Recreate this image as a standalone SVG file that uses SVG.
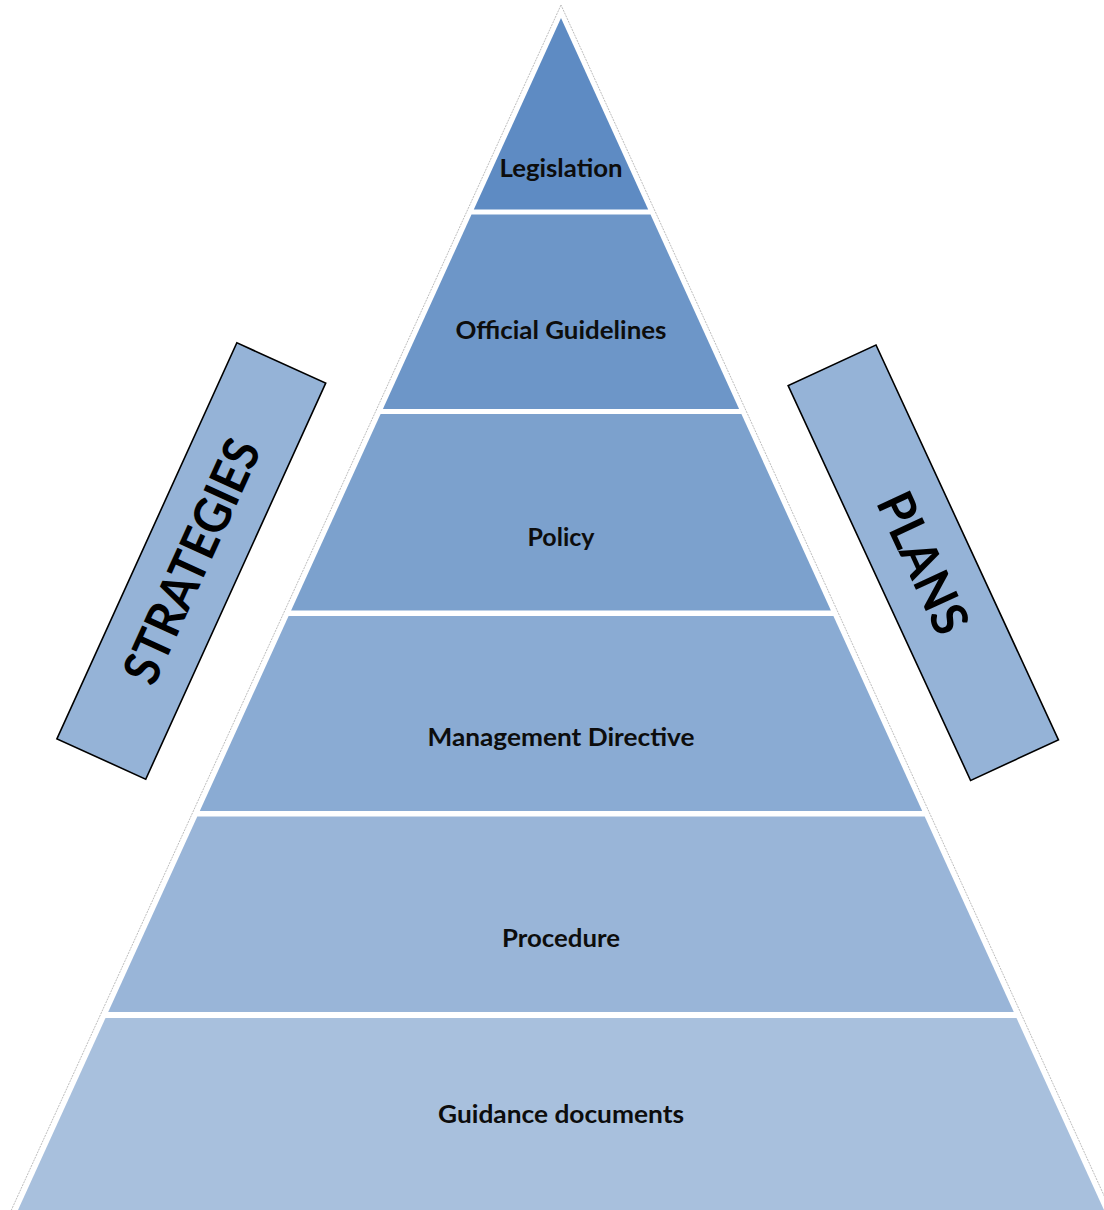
<svg xmlns="http://www.w3.org/2000/svg" width="1104" height="1210" viewBox="0 0 1104 1210">
<style>
.lbl{font-family:Lato,"Open Sans","Liberation Sans",sans-serif;font-weight:700;font-size:25px;fill:#0d0d0d;text-anchor:middle}
.side{font-family:Lato,"Open Sans","Liberation Sans",sans-serif;font-weight:700;font-size:50px;fill:#000;text-anchor:middle}
.box{fill:#95b3d7;stroke:#000;stroke-width:1.6}
.outline{fill:#fff;stroke:#bdbdbd;stroke-width:1;stroke-dasharray:2 1}
</style>
<rect width="1104" height="1210" fill="#fff"/>
<polygon class="outline" points="561,5 10,1213 1112,1213"/>
<g id="legislation">
<polygon points="561,18 648.2,209.5 473.8,209.5" fill="#5e8bc3"/>
<text class="lbl" x="561" y="177" textLength="123" lengthAdjust="spacingAndGlyphs">Legislation</text>
</g>
<g id="official-guidelines">
<polygon points="471.5,214.5 650.5,214.5 739.1,409 382.9,409" fill="#6d96c8"/>
<text class="lbl" x="561" y="339" textLength="211" lengthAdjust="spacingAndGlyphs">Official Guidelines</text>
</g>
<g id="policy">
<polygon points="380.6,414 741.4,414 830.9,610.5 291.1,610.5" fill="#7ca1cd"/>
<text class="lbl" x="561" y="546" textLength="67" lengthAdjust="spacingAndGlyphs">Policy</text>
</g>
<g id="management-directive">
<polygon points="288.6,616 833.4,616 922.2,811 199.8,811" fill="#8aabd3"/>
<text class="lbl" x="561" y="746" textLength="267" lengthAdjust="spacingAndGlyphs">Management Directive</text>
</g>
<g id="procedure">
<polygon points="197.3,816.5 924.7,816.5 1013.8,1012 108.2,1012" fill="#99b5d8"/>
<text class="lbl" x="561" y="947" textLength="118" lengthAdjust="spacingAndGlyphs">Procedure</text>
</g>
<g id="guidance-documents">
<polygon points="105.5,1018 1016.5,1018 1104,1210 18,1210" fill="#a8c0dd"/>
<text class="lbl" x="561" y="1123" textLength="246" lengthAdjust="spacingAndGlyphs">Guidance documents</text>
</g>
<g id="strategies" transform="translate(191.3,561) rotate(-65.56)">
<rect class="box" x="-217.5" y="-48.8" width="435" height="97.6"/>
<text class="side" x="0" y="18" textLength="262" lengthAdjust="spacingAndGlyphs">STRATEGIES</text>
</g>
<g id="plans" transform="translate(923.3,562.7) rotate(65.2)">
<rect class="box" x="-217.5" y="-48.4" width="435" height="96.8"/>
<text class="side" x="0" y="18" textLength="150" lengthAdjust="spacingAndGlyphs">PLANS</text>
</g>
<g id="connectors"/>
</svg>
